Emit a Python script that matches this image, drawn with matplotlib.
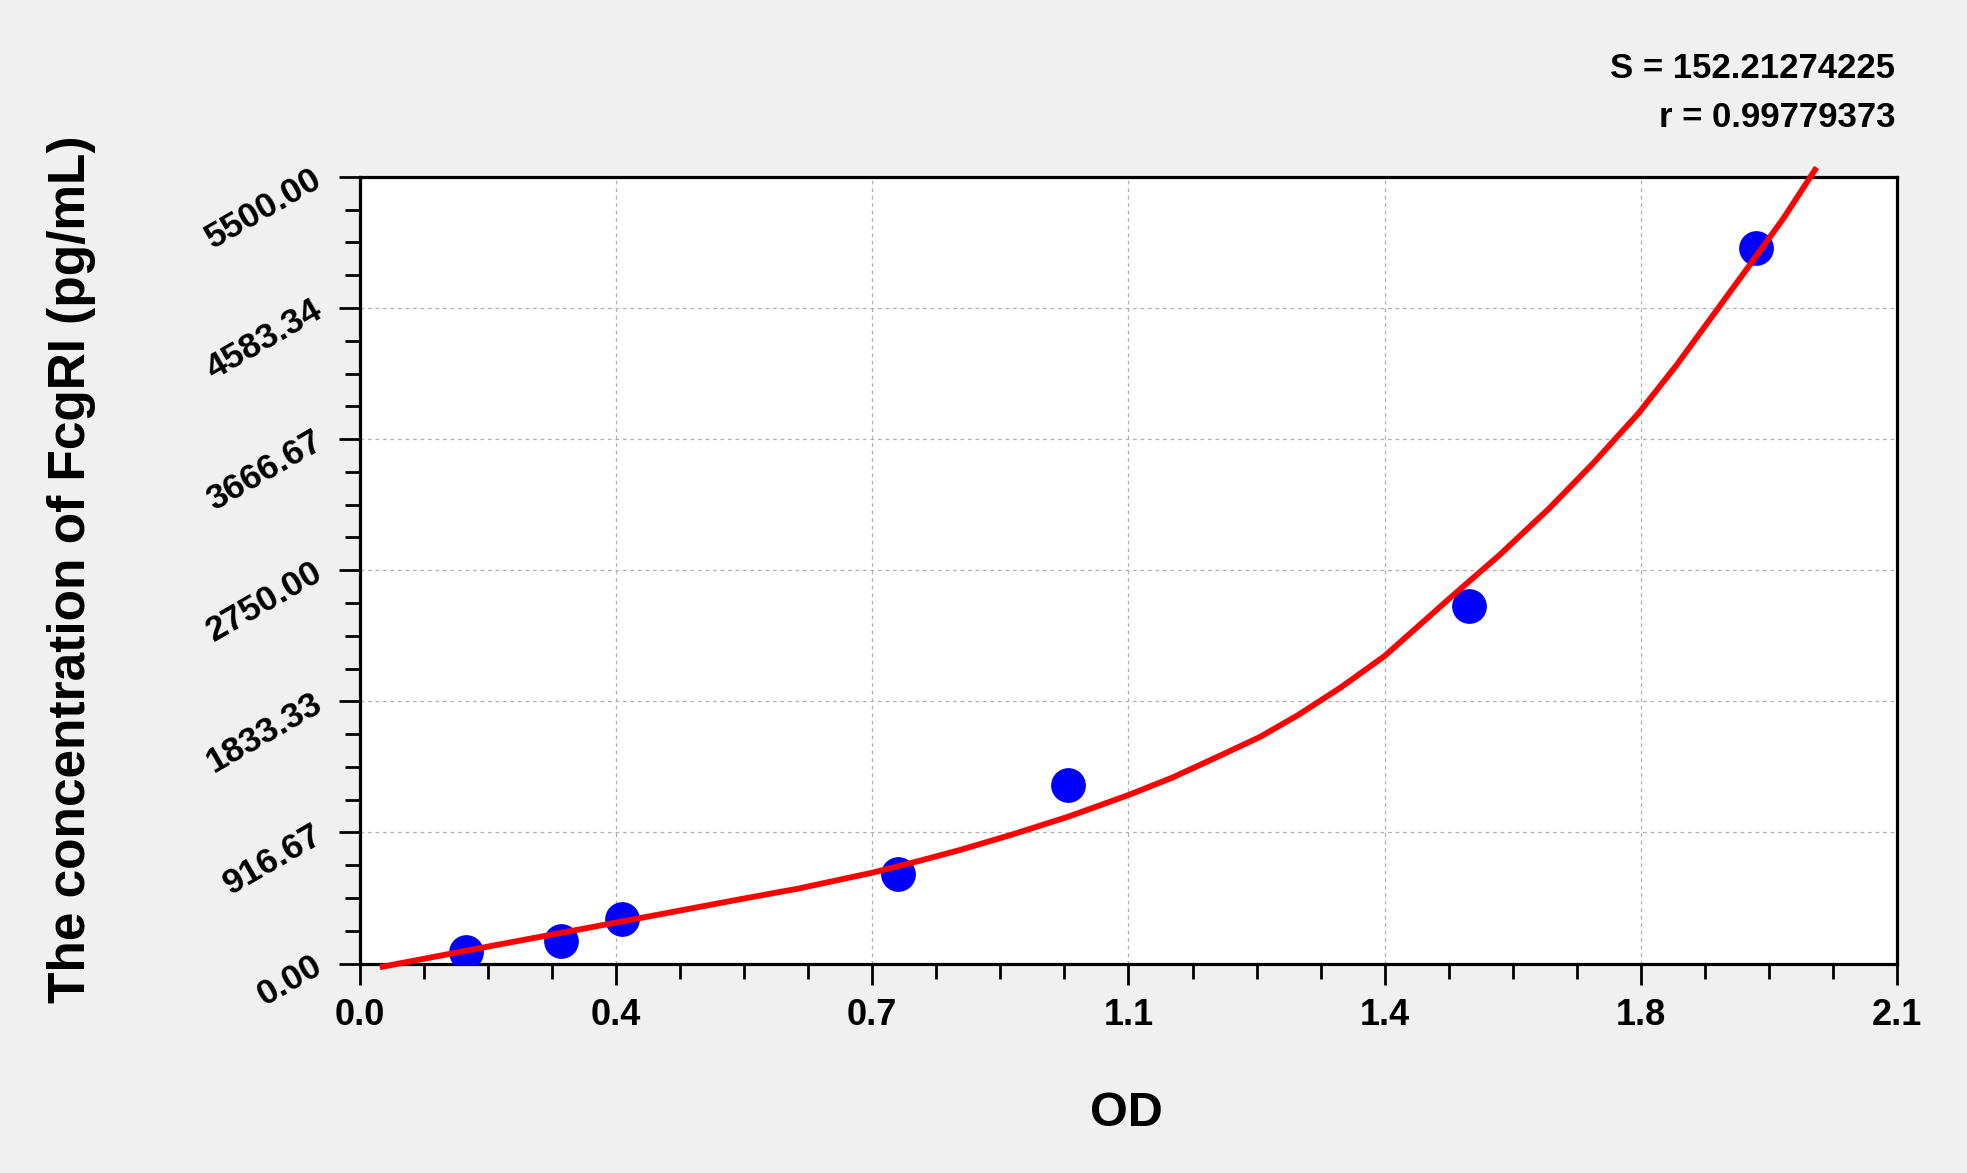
import numpy as np
import matplotlib
matplotlib.use("Agg")
import matplotlib.pyplot as plt
from matplotlib.ticker import AutoMinorLocator

plt.rcParams['font.family'] = ['Liberation Sans', 'DejaVu Sans']
plt.rcParams['font.weight'] = 'bold'

# ---------------------------------------------- data
od = [0.145, 0.274, 0.358, 0.735, 0.968, 1.515, 1.907]
conc = [78, 156, 312.5, 625, 1250, 2500, 5000]

# fitted curve
curve_x = [0.031, 0.162, 0.383, 0.519, 0.600, 0.700, 0.760, 0.820, 0.890,
           0.968, 1.050, 1.110, 1.172, 1.230, 1.282, 1.340, 1.400, 1.489,
           1.558, 1.625, 1.685, 1.747, 1.799, 1.854, 1.899, 1.945, 1.988]
curve_y = [-22, 106, 318, 449, 525, 635, 712, 794, 900,
           1027, 1178, 1300, 1446, 1585, 1738, 1930, 2150, 2554,
           2861, 3183, 3498, 3848, 4185, 4570, 4885, 5211, 5549]

x_ticks = [0.0, 0.35, 0.7, 1.05, 1.4, 1.75, 2.1]
x_labels = ['0.0', '0.4', '0.7', '1.1', '1.4', '1.8', '2.1']
y_ticks = [0, 916.67, 1833.33, 2750.0, 3666.67, 4583.34, 5500.0]
y_labels = ['0.00', '916.67', '1833.33', '2750.00', '3666.67', '4583.34', '5500.00']

s_text = 'S = 152.21274225'
r_text = 'r = 0.99779373'

# ---------------------------------------------- plot
fig = plt.figure(figsize=(19.67, 11.73), dpi=100, facecolor='#f0f0f0')
ax = fig.add_axes([0.183, 0.1786, 0.7814, 0.6706])
ax.set_facecolor('white')

ax.plot(od, conc, 'o', color='#0000ff', markersize=24, zorder=3)
ax.plot(curve_x, curve_y, color='#ff0000', lw=4.2, zorder=4, clip_on=False,
        solid_joinstyle='round')

ax.set_xlim(0, 2.1)
ax.set_ylim(0, 5500)
ax.set_xticks(x_ticks)
ax.set_xticklabels(x_labels, fontsize=26, fontweight='bold')
ax.set_yticks(y_ticks)
ax.set_yticklabels(y_labels, fontsize=25.5, fontweight='bold',
                   rotation=30, rotation_mode='anchor', ha='right', va='center')
ax.xaxis.set_minor_locator(AutoMinorLocator(4))
ax.yaxis.set_minor_locator(AutoMinorLocator(4))

ax.tick_params(which='both', direction='out', width=2, top=False, right=False)
ax.tick_params(which='major', length=15)
ax.tick_params(which='minor', length=10.5)
ax.tick_params(axis='x', which='major', pad=10)
ax.tick_params(axis='y', which='major', pad=14)

for sp in ax.spines.values():
    sp.set_linewidth(2.3)

ax.grid(True, which='major', color='#b0b0b0', linestyle=(0, (3, 3)), linewidth=0.9)
ax.set_axisbelow(True)

fig.text(0.5727, 0.051, 'OD', fontsize=35, fontweight='bold', ha='center', va='center')
fig.text(0.0366, 0.515, 'The concentration of FcgRI (pg/mL)', fontsize=37,
         fontweight='bold', rotation=90, ha='center', va='center')
fig.text(0.9634, 0.9335, s_text, fontsize=25, fontweight='bold', ha='right', va='baseline')
fig.text(0.9634, 0.8917, r_text, fontsize=25, fontweight='bold', ha='right', va='baseline')

fig.savefig('out.png', dpi=100, facecolor=fig.get_facecolor())
